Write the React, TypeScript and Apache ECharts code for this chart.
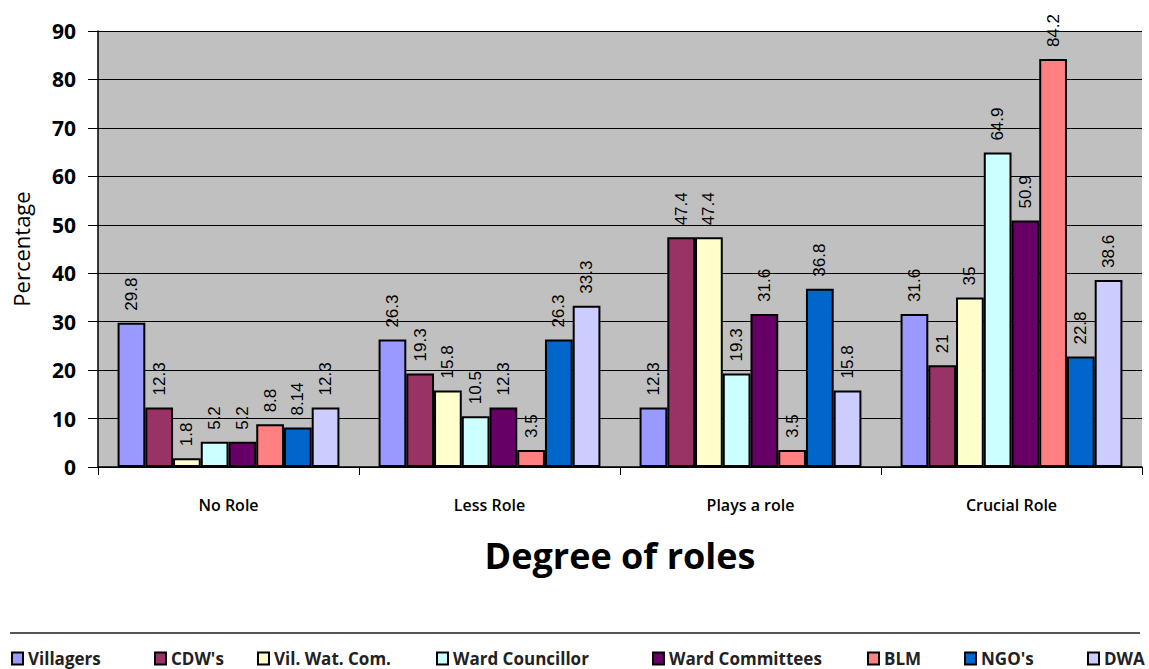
import React, { useEffect, useRef } from "react";
import * as echarts from "echarts";

const categories = ["No Role", "Less Role", "Plays a role", "Crucial Role"];
const seriesNames = ["Villagers", "CDW's", "Vil. Wat. Com.", "Ward Councillor", "Ward Committees", "BLM", "NGO's", "DWA"];
const villagers = [29.8, 26.3, 12.3, 31.6];
const cdws = [12.3, 19.3, 47.4, 21];
const vilWatCom = [1.8, 15.8, 47.4, 35];
const wardCouncillor = [5.2, 10.5, 19.3, 64.9];
const wardCommittees = [5.2, 12.3, 31.6, 50.9];
const blm = [8.8, 3.5, 3.5, 84.2];
const ngos = [8.14, 26.3, 36.8, 22.8];
const dwa = [12.3, 33.3, 15.8, 38.6];
const seriesValues = [villagers, cdws, vilWatCom, wardCouncillor, wardCommittees, blm, ngos, dwa];
const colors = ["#9999FF", "#993366", "#FFFFCC", "#CCFFFF", "#660066", "#FF8080", "#0066CC", "#CCCCFF"];
const legendLeft = [11, 154, 257, 436, 652, 867, 964, 1087];

export default function App() {
  const ref = useRef<HTMLDivElement>(null);
  useEffect(() => {
    if (!ref.current) return;
    const chart = echarts.init(ref.current, null, { renderer: "svg" });
    const option: any = {
      animation: false,
      backgroundColor: "#ffffff",
      grid: { left: 98, right: 7, top: 31, bottom: 202, backgroundColor: "#C0C0C0", show: true, borderWidth: 0 },
      legend: seriesNames.map((n, i) => ({
        data: [n],
        left: legendLeft[i],
        top: 650,
        padding: 0,
        itemWidth: 11,
        itemHeight: 12,
        icon: "rect",
        textStyle: { fontFamily: "Open Sans", fontWeight: "bold", fontSize: 17, color: "#222" },
        selectedMode: false,
      })),
      graphic: [
        { type: "line", shape: { x1: 10, y1: 633, x2: 1140, y2: 633 }, style: { stroke: "#555", lineWidth: 2 } },
      ],
      xAxis: {
        type: "category",
        data: categories,
        name: "Degree of roles",
        nameLocation: "middle",
        nameGap: 70,
        nameTextStyle: { fontFamily: "Open Sans", fontWeight: "bold", fontSize: 36, color: "#000" },
        axisLine: { lineStyle: { color: "#000", width: 1.5 } },
        axisTick: { show: true, length: 8, lineStyle: { color: "#000" } },
        axisLabel: { fontFamily: "Open Sans", fontWeight: 600, fontSize: 16, color: "#000", margin: 30 },
      },
      yAxis: {
        type: "value",
        min: 0,
        max: 90,
        interval: 10,
        name: "Percentage",
        nameLocation: "middle",
        nameGap: 66,
        nameTextStyle: { fontFamily: "Open Sans", fontSize: 22, color: "#000" },
        axisLine: { show: true, lineStyle: { color: "#000", width: 1.5 } },
        axisTick: { show: true, length: 10, lineStyle: { color: "#000" } },
        axisLabel: { fontFamily: "Open Sans", fontWeight: "bold", fontSize: 21, color: "#000", margin: 22 },
        splitLine: { lineStyle: { color: "#000", width: 1 } },
      },
      series: seriesNames.map((n, i) => ({
        name: n,
        type: "bar",
        data: seriesValues[i],
        barGap: "0%",
        barCategoryGap: "15%",
        itemStyle: { color: colors[i], borderColor: "#000", borderWidth: 2 },
        label: {
          show: true,
          position: "top",
          rotate: 90,
          align: "left",
          verticalAlign: "middle",
          distance: 12,
          fontFamily: "Liberation Sans",
          fontSize: 17,
          color: "#000",
        },
      })),
    };
    chart.setOption(option);
    return () => chart.dispose();
  }, []);
  return <div ref={ref} style={{ position: "fixed", left: 0, top: 0, width: 1149, height: 669 }} />;
}
